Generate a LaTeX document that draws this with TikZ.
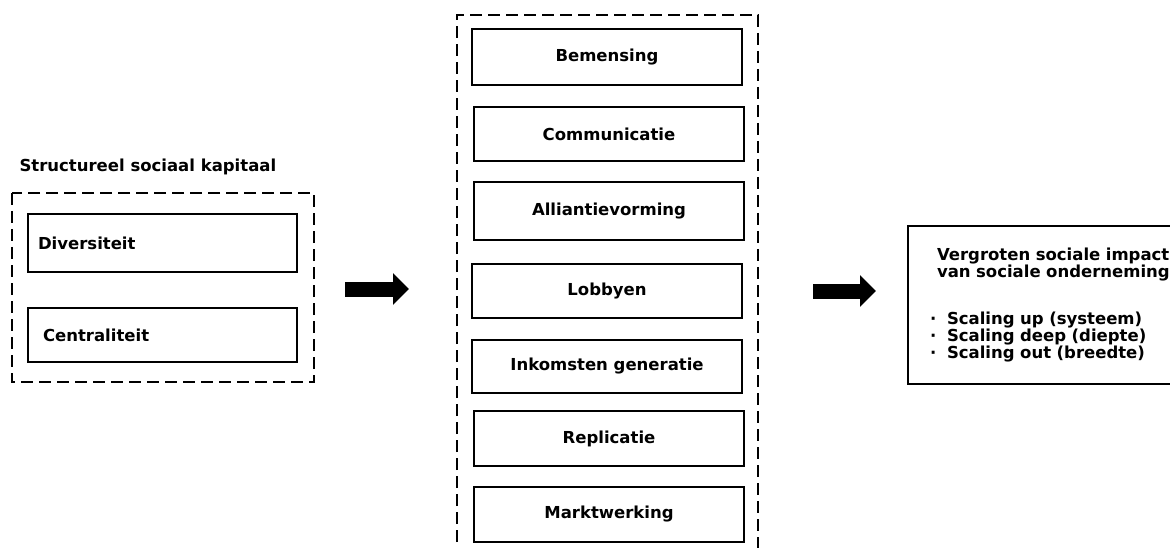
\documentclass[tikz,border=0pt]{standalone}
\usepackage{fontspec}
\setmainfont{DejaVu Sans}
\usetikzlibrary{arrows.meta}
\setlength{\lineskiplimit}{-8pt}

\begin{document}
\begin{tikzpicture}[x=1pt, y=-1pt,
  font=\fontsize{16.5}{15}\selectfont\bfseries,
  box/.style={draw, line width=1.7pt, minimum width=270pt, minimum height=56pt, inner sep=0pt},
  dashbox/.style={line width=1.7pt, dash pattern=on 12pt off 6pt},
  bigarrow/.style={line width=15pt, -{Triangle[length=16pt, width=31pt]}}]

  \useasboundingbox (0,0) rectangle (1170,548);

  % structureel sociaal kapitaal:
  \node [anchor=west] (title) at (16,167) {Structureel sociaal kapitaal};
  \draw [dashbox] (12,193) rectangle (314,382);
  \node [box, minimum width=269pt, minimum height=58pt, text width=249pt, inner xsep=10pt, align=left] (div) at (162.5,243) {Diversiteit};
  \node [box, minimum width=269pt, minimum height=54pt, text width=239pt, inner xsep=15pt, align=left] (cen) at (162.5,335) {Centraliteit};

  % mechanismen:
  \draw [dashbox] (457,560) -- (457,15) -- (758,15) -- (758,560);
  \foreach \n/\x/\y/\h/\t in {bem/607/57/56/Bemensing, com/609/134/54/Communicatie,
      all/609/211/58/Alliantievorming, lob/607/291/54/Lobbyen,
      ink/607/366.5/53/Inkomsten generatie, rep/609/438.5/55/Replicatie,
      mar/609/514.5/55/Marktwerking}
    \node [box, minimum height=\h pt] (\n) at (\x,\y) {\t};

  % impact:
  \node [box, minimum width=304pt, minimum height=158pt, text width=260pt, inner xsep=22pt, align=left] (impact) at (1060,305)
    {\hspace*{7pt}Vergroten sociale impact\\ \hspace*{7pt}van sociale onderneming\\[30pt]
     \makebox[17pt][l]{·}Scaling up (systeem)\\
     \makebox[17pt][l]{·}Scaling deep (diepte)\\
     \makebox[17pt][l]{·}Scaling out (breedte)};

  % arrows:
  \coordinate (a1) at (345,289);
  \coordinate (b1) at (409,289);
  \coordinate (a2) at (813,291);
  \coordinate (b2) at (876,291);
  \draw [bigarrow] (a1) -- (b1);
  \draw [bigarrow] (a2) -- (b2);

\end{tikzpicture}
\end{document}
